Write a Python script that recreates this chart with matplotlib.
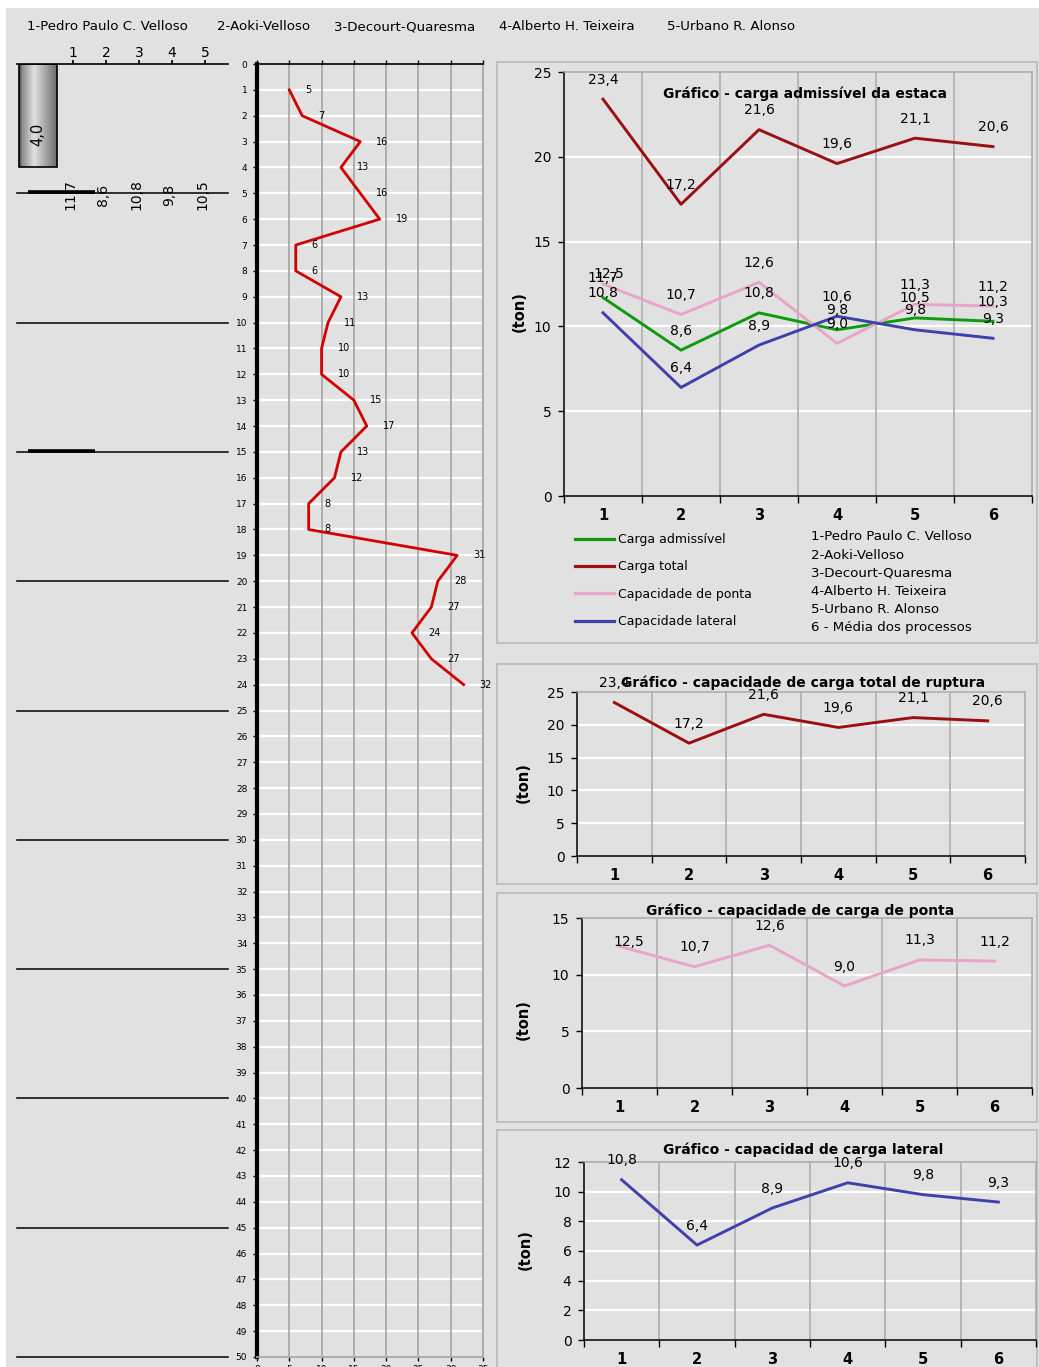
import numpy as np
import matplotlib
matplotlib.use("Agg")
import matplotlib.pyplot as plt
from matplotlib.patches import Rectangle
from matplotlib.lines import Line2D

plt.rcParams["font.family"] = ["DejaVu Sans"]

# ---------------- dados ----------------
metodos = [
    "1-Pedro Paulo C. Velloso",
    "2-Aoki-Velloso",
    "3-Decourt-Quaresma",
    "4-Alberto H. Teixeira",
    "5-Urbano R. Alonso",
    "6 - Média dos processos",
]
processos = [1, 2, 3, 4, 5, 6]
carga_total = [23.4, 17.2, 21.6, 19.6, 21.1, 20.6]
carga_admissivel = [11.7, 8.6, 10.8, 9.8, 10.5, 10.3]
cap_ponta = [12.5, 10.7, 12.6, 9.0, 11.3, 11.2]
cap_lateral = [10.8, 6.4, 8.9, 10.6, 9.8, 9.3]

profundidade = list(range(1, 25))
nspt = [5, 7, 16, 13, 16, 19, 6, 6, 13, 11, 10, 10,
        15, 17, 13, 12, 8, 8, 31, 28, 27, 24, 27, 32]
comprimento_estaca = 4.0

legenda_series = ["Carga admissível", "Carga total",
                  "Capacidade de ponta", "Capacidade lateral"]

# ---------------- estilo ----------------
W, H = 1039, 1367
FUNDO = "#e1e1e1"
GRADE_V = "#a9a9a9"
MOLDURA = "#bcbcbc"
VERDE = "#0e9a0e"
VINHO = "#9a1010"
ROSA = "#e8a4c9"
AZUL = "#4040aa"
VERMELHO = "#d10000"


def virgula(v):
    return f"{v:.1f}".replace(".", ",")


fig = plt.figure(figsize=(W / 100, H / 100), dpi=100, facecolor="white")
fig.add_artist(Rectangle((6 / W, 0), 1, 1 - 8 / H, transform=fig.transFigure,
                         facecolor=FUNDO, edgecolor="none", zorder=-10))


def fx(x):
    return x / W


def fy(y):
    return 1 - y / H


def area(x0, y0, x1, y1):
    return fig.add_axes([x0 / W, 1 - y1 / H, (x1 - x0) / W, (y1 - y0) / H])


# ---------------- cabeçalho ----------------
for nome, x in zip(metodos[:5], [27, 217, 334, 499, 667]):
    fig.text(fx(x), fy(27), nome, fontsize=9.6, ha="left", va="center")

# ---------------- perfil da estaca ----------------
axL = area(17, 64, 228, 1357)
t = np.linspace(0, 1, 120)
tom = np.interp(t, [0, 0.08, 0.4, 1.0], [0.25, 0.55, 0.88, 0.42])
ex0, ex1 = -0.636, 0.515
axL.imshow(tom[None, :], cmap="gray", vmin=0, vmax=1, aspect="auto",
           extent=(ex0, ex1, comprimento_estaca, 0), interpolation="bilinear",
           zorder=2)
axL.add_patch(Rectangle((ex0, 0), ex1 - ex0, comprimento_estaca, fill=False,
                        edgecolor="black", lw=1.2, zorder=3))
axL.text((ex0 + ex1) / 2, comprimento_estaca * 0.68, virgula(comprimento_estaca),
         rotation=90, ha="center", va="center", fontsize=10.5, zorder=4)
axL.set_xlim(-0.697, 5.697)
axL.set_ylim(50, 0)
axL.patch.set_visible(False)
for nm, sp in axL.spines.items():
    sp.set_visible(nm == "top")
axL.spines["top"].set_linewidth(1.2)
axL.xaxis.tick_top()
axL.set_xticks(processos[:5])
axL.tick_params(axis="x", direction="out", length=3, width=1.2,
                labelsize=10, pad=0)
axL.set_yticks([])
for d in range(5, 51, 5):
    axL.axhline(d, color="black", lw=1.1, clip_on=False)
for d in (5, 15):
    axL.plot([-0.36, 1.67], [d - 0.04, d - 0.04], color="black", lw=2.6,
             solid_capstyle="butt")
for i, v in enumerate(carga_admissivel[:5]):
    axL.text(processos[i] - 0.08, 5.05, virgula(v), rotation=90,
             ha="center", va="center", fontsize=10)

# ---------------- sondagem SPT ----------------
axS = area(257, 64, 483, 1357)
axS.set_facecolor(FUNDO)
axS.set_xlim(0, 35)
axS.set_ylim(50, 0)
axS.set_xticks(range(0, 36, 5))
axS.set_yticks(range(0, 51))
axS.tick_params(axis="y", direction="out", length=3, width=1,
                labelsize=6.5, pad=4)
axS.tick_params(axis="x", direction="out", length=3, width=1,
                labelsize=6.5, pad=3, top=True)
for d in range(1, 50):
    axS.axhline(d, color="white", lw=1.6, zorder=0.5)
for x in range(5, 36, 5):
    axS.axvline(x, color=GRADE_V, lw=1.3, zorder=0.6)
axS.spines["left"].set_linewidth(3)
axS.spines["top"].set_linewidth(1.2)
for nm in ("right", "bottom"):
    axS.spines[nm].set_color(GRADE_V)
    axS.spines[nm].set_linewidth(1.3)
axS.plot(nspt, profundidade, color=VERMELHO, lw=2.0, zorder=3)
for n, d in zip(nspt, profundidade):
    axS.annotate(str(n), (n, d), xytext=(11.5, 0), textcoords="offset points",
                 ha="left", va="center", fontsize=7, annotation_clip=False)


# ---------------- gráficos de capacidade ----------------
def grafico(ret, ymax, ypasso, series, especiais=None):
    ax = area(*ret)
    ax.set_facecolor(FUNDO)
    ax.set_xlim(0.5, 6.5)
    ax.set_ylim(0, ymax)
    yt = np.arange(0, ymax + 0.01, ypasso)
    ax.set_yticks(yt)
    ax.set_yticklabels([f"{v:g}" for v in yt])
    ax.set_xticks(processos)
    ax.set_xticks(np.arange(0.5, 6.6, 1), minor=True)
    ax.tick_params(axis="x", which="major", length=0, labelsize=10.5, pad=9)
    ax.tick_params(axis="x", which="minor", length=5, width=1, direction="out")
    ax.tick_params(axis="y", length=4, width=1, labelsize=10, pad=5)
    for lab in ax.get_xticklabels():
        lab.set_fontweight("bold")
    for y in yt[1:-1]:
        ax.axhline(y, color="white", lw=1.6, zorder=0.5)
    for x in np.arange(1.5, 6.0, 1):
        ax.axvline(x, color=GRADE_V, lw=1.1, zorder=0.6)
    for nm in ("left", "bottom"):
        ax.spines[nm].set_linewidth(1.1)
    for nm in ("top", "right"):
        ax.spines[nm].set_color(GRADE_V)
        ax.spines[nm].set_linewidth(1.1)
    especiais = especiais or {}
    for k, (vals, cor) in enumerate(series):
        ax.plot(processos, vals, color=cor, lw=2.1, zorder=3)
        for i, (x, v) in enumerate(zip(processos, vals)):
            dx, dy = especiais.get((k, i), (0, 14))
            ax.annotate(virgula(v), (x, v), xytext=(dx, dy),
                        textcoords="offset points", ha="center", va="center",
                        fontsize=10, zorder=4, annotation_clip=False)
    return ax


def moldura(x0, y0, x1, y1):
    fig.add_artist(Rectangle((fx(x0), fy(y1)), (x1 - x0) / W, (y1 - y0) / H,
                             transform=fig.transFigure, fill=False,
                             edgecolor=MOLDURA, lw=1.3, zorder=-5))


def ton(x, y):
    fig.text(fx(x), fy(y), "(ton)", rotation=90, fontsize=10.5,
             fontweight="bold", ha="center", va="center")


def titulo(x, y, txt):
    fig.text(fx(x), fy(y), txt, fontsize=10, fontweight="bold",
             ha="center", va="center", zorder=10)


# gráfico 1: carga admissível
moldura(497, 62, 1037, 643)
grafico((564, 72, 1032, 496), 25, 5,
        [(carga_admissivel, VERDE), (carga_total, VINHO),
         (cap_ponta, ROSA), (cap_lateral, AZUL)],
        especiais={(2, 0): (4, 7)})
titulo(805, 94, "Gráfico - carga admissível da estaca")
ton(519, 312)
alcas = [Line2D([], [], color=c, lw=2.3) for c in (VERDE, VINHO, ROSA, AZUL)]
fig.legend(alcas, legenda_series, loc="upper left",
           bbox_to_anchor=(fx(575), fy(533)), frameon=False, fontsize=9,
           handlelength=3.1, handletextpad=0.35, labelspacing=1.15,
           borderpad=0, borderaxespad=0)
for i, nome in enumerate(metodos):
    fig.text(fx(811), fy(537 + 18.2 * i), nome, fontsize=9.6,
             ha="left", va="center")

# gráfico 2: carga total de ruptura
moldura(497, 664, 1037, 884)
grafico((577, 692, 1025, 856), 25, 5, [(carga_total, VINHO)])
titulo(803, 683, "Gráfico - capacidade de carga total de ruptura")
ton(523, 783)

# gráfico 3: carga de ponta
moldura(497, 893, 1037, 1122)
grafico((582, 918, 1032, 1088), 15, 5, [(cap_ponta, ROSA)],
        especiais={(0, 0): (7, 3)})
titulo(800, 911, "Gráfico - capacidade de carga de ponta")
ton(523, 1020)

# gráfico 4: carga lateral
moldura(497, 1130, 1037, 1375)
grafico((584, 1162, 1036, 1340), 12, 2, [(cap_lateral, AZUL)])
titulo(803, 1150, "Gráfico - capacidad de carga lateral")
ton(525, 1250)

fig.savefig("out.png", dpi=100, facecolor=fig.get_facecolor())
